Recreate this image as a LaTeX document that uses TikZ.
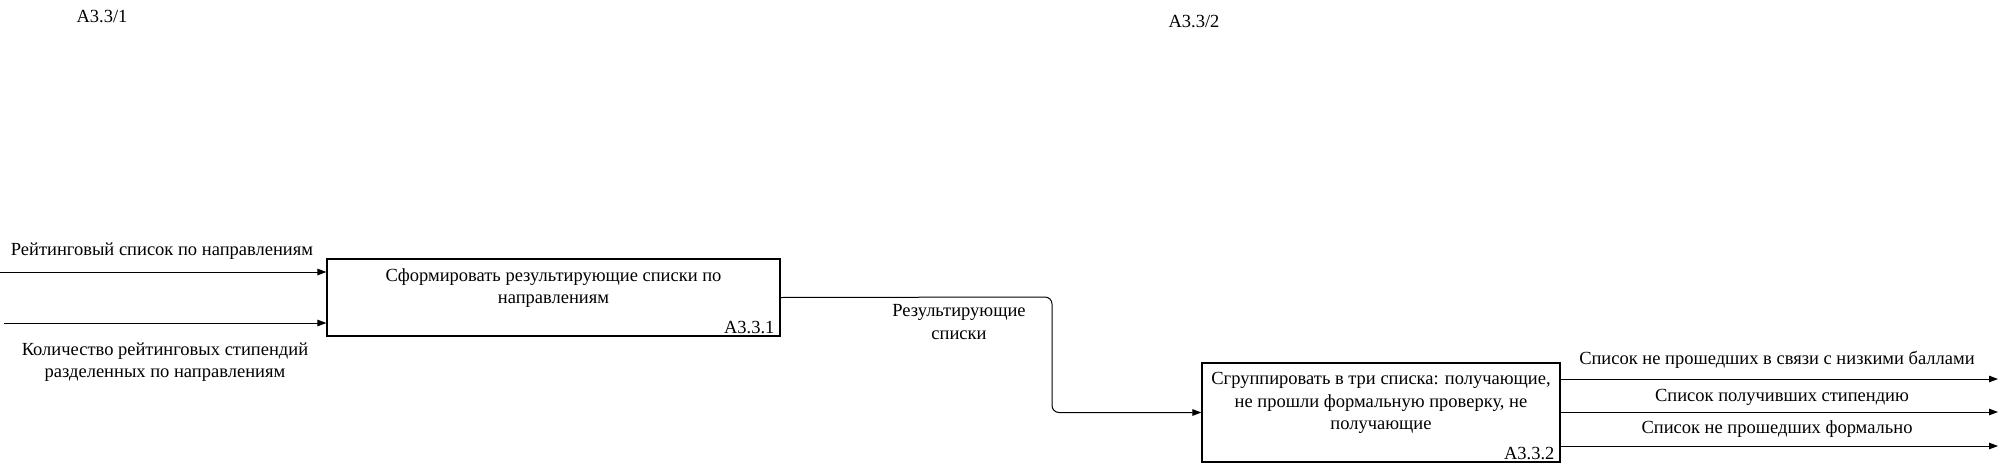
\documentclass[tikz,border=0pt]{standalone}
\usepackage{fontspec}
\setmainfont{Liberation Serif}
\usetikzlibrary{arrows.meta}

\tikzset{
  func/.style={draw, line width=1.2pt, inner sep=0pt},
  flow/.style={line width=1pt, -{Triangle[length=9pt,width=6.5pt]}},
  lbl/.style={align=center, inner sep=0pt},
  fnum/.style={anchor=south east, inner xsep=6pt, inner ysep=3pt}
}

\begin{document}
\begin{tikzpicture}[x=1pt, y=-1pt, font=\fontsize{18.5}{22.5}\selectfont]
    \useasboundingbox (0,0) rectangle (1999,471);
    % diagram numbers
    \node[lbl] (n1) at (102,17) {A3.3/1};
    \node[lbl] (n2) at (1194,22) {A3.3/2};
    % function boxes
    \node[func, minimum width=453pt, minimum height=77pt] (f1) at (553.5,297.5) {};
    \node[lbl] (t1) at (553.5,288) {Сформировать результирующие списки по\\направлениям};
    \node[fnum] (a1) at (f1.south east) {A3.3.1};
    \node[func, minimum width=358pt, minimum height=99pt] (f2) at (1381,412.5) {};
    \node[lbl] (t2) at (1381,403) {Сгруппировать в три списка: получающие,\\не прошли формальную проверку, не\\получающие};
    \node[fnum] (a2) at (f2.south east) {A3.3.2};
    % inputs
    \coordinate (in1) at (0,272);
    \coordinate (in2) at (4,323);
    \draw[flow] (in1) -- (in1 -| f1.west);
    \draw[flow] (in2) -- (in2 -| f1.west);
    \node[lbl] (l1) at (162,251) {Рейтинговый список по направлениям};
    \node[lbl] (l2) at (165,362) {Количество рейтинговых стипендий\\разделенных по направлениям};
    % f1 -> f2
    \coordinate (bend) at (1052,297);
    \draw[flow, rounded corners=7pt] (f1.east) -- (bend) |- (f2.west);
    \node[lbl] (l3) at (959,322) {Результирующие\\списки};
    % outputs
    \coordinate (out1) at (1998,379);
    \coordinate (out2) at (1998,412);
    \coordinate (out3) at (1998,446);
    \draw[flow] (out1 -| f2.east) -- (out1);
    \draw[flow] (out2 -| f2.east) -- (out2);
    \draw[flow] (out3 -| f2.east) -- (out3);
    \node[lbl] (o1) at (1777,360) {Список не прошедших в связи с низкими баллами};
    \node[lbl] (o2) at (1782,397) {Список получивших стипендию};
    \node[lbl] (o3) at (1777,429) {Список не прошедших формально};
\end{tikzpicture}
\end{document}
